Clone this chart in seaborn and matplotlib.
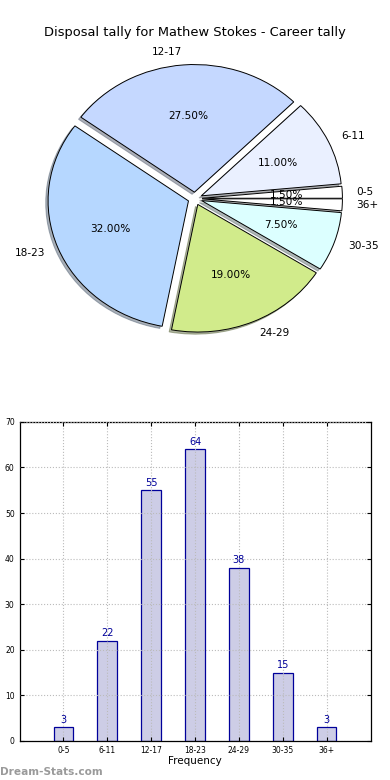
import matplotlib
matplotlib.use('Agg')
import matplotlib.pyplot as plt
import seaborn as sns

# Data
categories = ['0-5', '6-11', '12-17', '18-23', '24-29', '30-35', '36+']
counts = [3, 22, 55, 64, 38, 15, 3]
pie_colors = ['#ffffff', '#eaf0ff', '#c5d8ff', '#b6d7ff', '#d1eb8b', '#dcffff', '#ffffff']
title = 'Disposal tally for Mathew Stokes - Career tally'

fig, (ax1, ax2) = plt.subplots(2, 1, figsize=(3.9, 7.8), dpi=100)
plt.subplots_adjust(left=0.05, right=0.95, top=0.95, bottom=0.05, hspace=0.2)

# Pie (old style, not equal aspect)
wedges, texts, autotexts = ax1.pie(counts, labels=categories, colors=pie_colors,
                                   explode=[0.05] * len(counts),
                                   shadow={'ox': -0.012, 'oy': -0.012, 'shade': 0.55},
                                   autopct='%1.2f%%', startangle=0,
                                   wedgeprops={'edgecolor': 'black', 'linewidth': 0.7},
                                   textprops={'fontsize': 7.6})
ax1.set_aspect('auto')
ax1.set_xlim(-1.25, 1.25)
ax1.set_ylim(-1.25, 1.25)
ax1.set_title(title, fontsize=9.4, pad=2)

# Bar chart
sns.barplot(x=categories, y=counts, color='#cdcde6', edgecolor='#00009a',
            linewidth=0.9, width=0.45, saturation=1, ax=ax2)
ax2.set_xlim(-1, 7)
ax2.set_ylim(0, 70)
ax2.set_yticks(range(0, 71, 10))
ax2.grid(True, linestyle=':', color='#bbbbbb', linewidth=0.8)
ax2.set_axisbelow(False)
ax2.tick_params(direction='in', top=True, right=True, length=3, labelsize=5.5)
ax2.set_xlabel('Frequency', fontsize=7.5, labelpad=1)
ax2.set_ylabel('')
for sp in ax2.spines.values():
    sp.set_linewidth(0.9)
for i, v in enumerate(counts):
    ax2.text(i, v + 0.6, str(v), ha='center', va='bottom', fontsize=7, color='#00009a')

fig.text(0.0, 0.007, 'Dream-Stats.com', fontsize=7.6, color='#9a9a9a', fontweight='bold')

plt.savefig('out.png')
